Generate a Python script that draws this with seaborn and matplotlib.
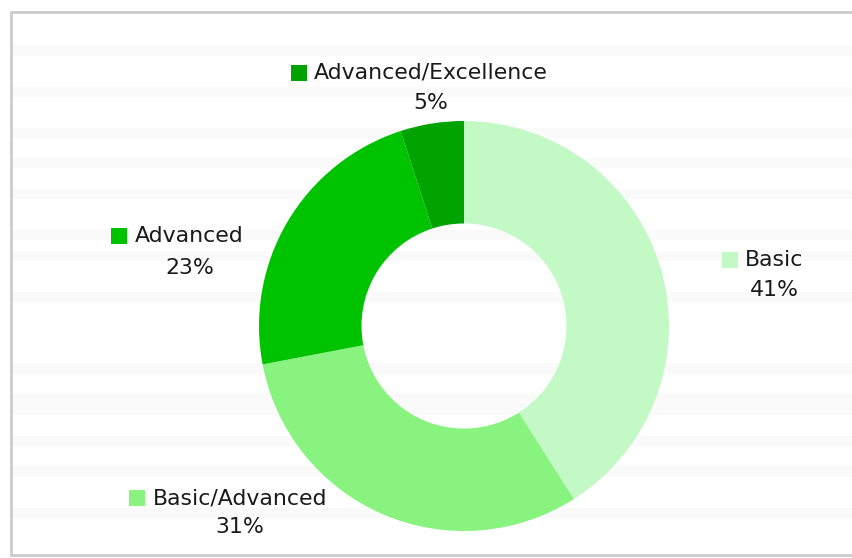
import matplotlib
matplotlib.use("Agg")
import matplotlib.pyplot as plt
from matplotlib.patches import Rectangle
import seaborn as sns

categories = ["Basic", "Basic/Advanced", "Advanced", "Advanced/Excellence"]
values = [41, 31, 23, 5]
pct_labels = ["41%", "31%", "23%", "5%"]
colors = ["#c3f9c5", "#88f37f", "#00c300", "#00a300"]

sns.set_style("white")
plt.rcParams['font.family'] = ['DejaVu Sans']

W, H = 853, 558
fig = plt.figure(figsize=(W / 100, H / 100), dpi=100)
fig.patch.set_facecolor("white")

def fx(x):
    return x / W

def fy(y):
    return 1 - y / H

# faint background stripes (decoration)
stripes = [(45, 56), (87, 97), (128, 138), (158, 168), (189, 199), (230, 240),
           (251, 261), (292, 302), (363, 374), (394, 415), (436, 446),
           (466, 477), (508, 518)]
for y0, y1 in stripes:
    fig.add_artist(Rectangle((fx(12), fy(y1)), 1 - fx(12), (y1 - y0) / H,
                             transform=fig.transFigure, facecolor="#fafafa",
                             edgecolor="none", zorder=0))

# border
fig.add_artist(plt.Line2D([fx(11), fx(11)], [fy(555), fy(12)], color="#cccccc",
                          lw=2, transform=fig.transFigure))
fig.add_artist(plt.Line2D([fx(11), 1.01], [fy(12), fy(12)], color="#cccccc",
                          lw=2, transform=fig.transFigure))
fig.add_artist(plt.Line2D([fx(11), 1.01], [fy(555), fy(555)], color="#cccccc",
                          lw=2, transform=fig.transFigure))

cx, cy, r = 464, 326, 205
ax = fig.add_axes([fx(cx - r), fy(cy + r), 2 * r / W, 2 * r / H])
ax.set_facecolor("none")
ax.pie(values, colors=colors, startangle=90, counterclock=False,
       wedgeprops=dict(width=0.5, edgecolor="none"), radius=1)
ax.set_xlim(-1, 1)
ax.set_ylim(-1, 1)
ax.set_aspect("equal")
ax.axis("off")

# label positions (pixel) : square left x, text left x, line1 y, line2 y
label_pos = {
    "Basic": (722, 745, 260, 290),
    "Basic/Advanced": (129, 153, 498, 527),
    "Advanced": (111, 135, 236, 268),
    "Advanced/Excellence": (291, 314, 73, 103),
}
fs = 15.8
for cat, pct, col in zip(categories, pct_labels, colors):
    sx, tx, y1, y2 = label_pos[cat]
    fig.add_artist(Rectangle((fx(sx), fy(y1 + 8)), 16 / W, 16 / H,
                             transform=fig.transFigure, facecolor=col,
                             edgecolor="none"))
    t = fig.text(fx(tx), fy(y1), cat, fontsize=fs, color="#1a1a1a",
                 ha="left", va="center")
    fig.canvas.draw()
    bb = t.get_window_extent()
    cxp = (bb.x0 + bb.x1) / 2
    fig.text(cxp / W, fy(y2), pct, fontsize=fs, color="#1a1a1a",
             ha="center", va="center")

fig.savefig("out.png", dpi=100)
